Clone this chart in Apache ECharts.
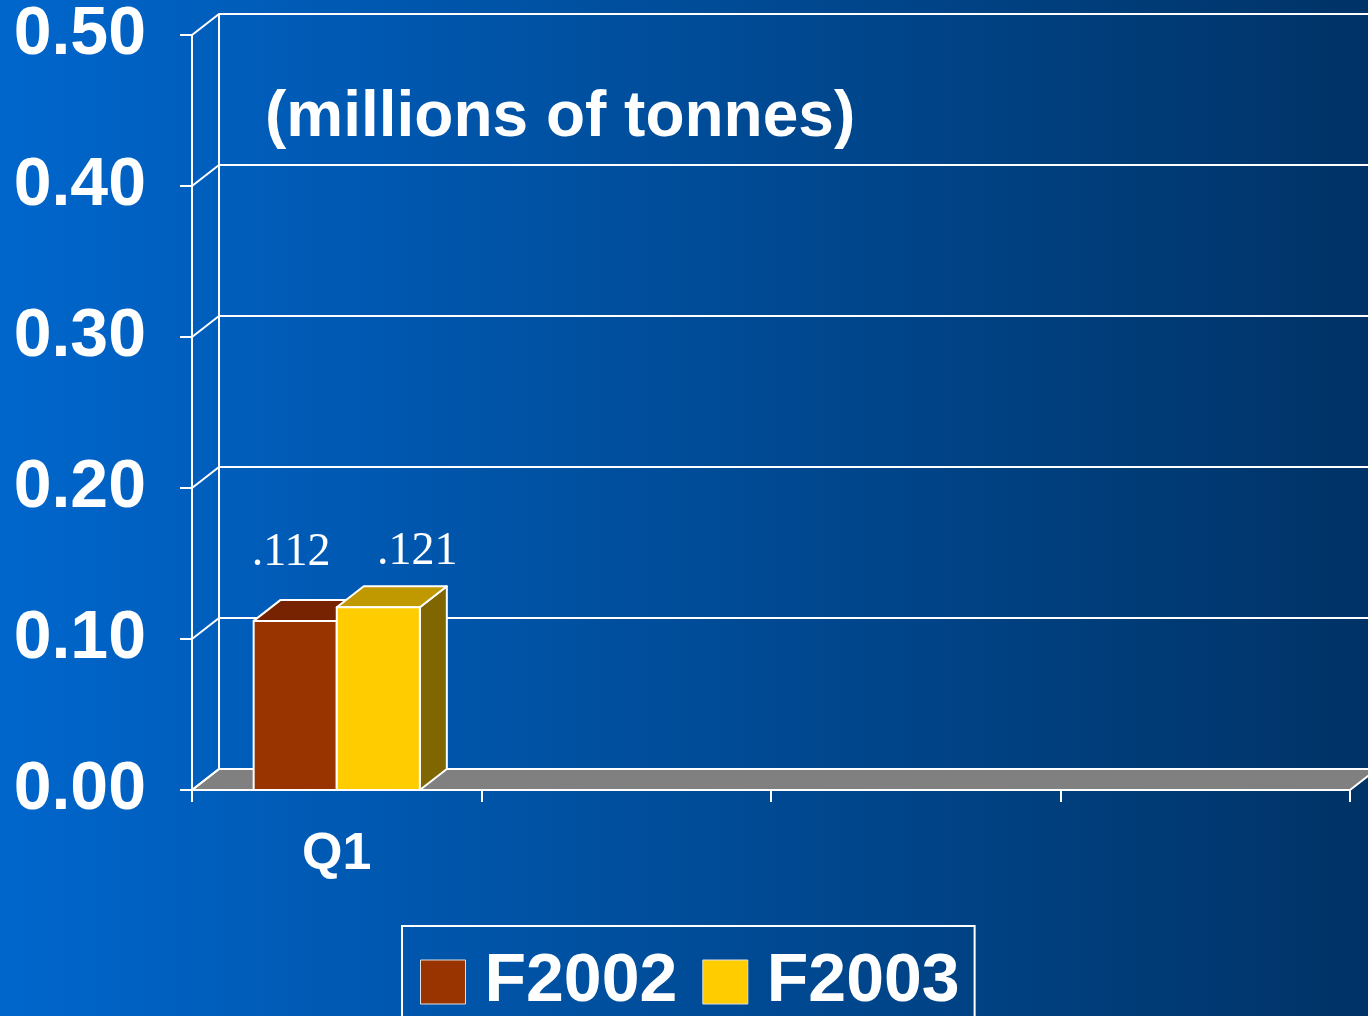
<!DOCTYPE html>
<html>
<head>
<meta charset="utf-8">
<script src="https://cdn.jsdelivr.net/npm/echarts@6/dist/echarts.min.js"></script>
<style>
  html, body { margin: 0; padding: 0; }
  #chart { width: 1368px; height: 1016px; }
</style>
</head>
<body>
<div id="chart"></div>
<script>
// data
const categories = ['Q1', '', '', ''];
const f2002 = [0.112, null, null, null];
const f2003 = [0.121, null, null, null];
const yTicks = [0, 0.1, 0.2, 0.3, 0.4, 0.5];

// pseudo 3d depth
const DX = 27;
const DY = -21;
const SANS = '"Liberation Sans", Arial, sans-serif';
const SERIF = '"Liberation Serif", "Times New Roman", serif';

const chart = echarts.init(document.getElementById('chart'));

const toPoints = arr => arr.map((v, i) => [i, v]).filter(d => d[1] != null);

// floor + side wall lines
const renderFrame = (params, api) => {
  const band = api.size([1, 0])[0];
  const p0 = api.coord([0, 0]);
  const pN = api.coord([categories.length - 1, 0]);
  const left = p0[0] - band / 2;
  const right = pN[0] + band / 2;
  const y0 = p0[1];
  const children = [{
    type: 'polygon',
    shape: { points: [[left, y0], [right, y0], [right + DX, y0 + DY], [left + DX, y0 + DY]] },
    style: { fill: '#808080', stroke: '#fff', lineWidth: 2 }
  }];
  yTicks.forEach(t => {
    const y = api.coord([0, t])[1];
    children.push({
      type: 'line',
      shape: { x1: left, y1: y, x2: left + DX, y2: y + DY },
      style: { stroke: '#fff', lineWidth: 2 }
    });
  });
  return { type: 'group', children: children };
};

// one 3d bar with value label
const makeBar = (slot, front, topColor, sideColor, labelShift) => (params, api) => {
  const cat = api.value(0);
  const v = api.value(1);
  const base = api.coord([cat, 0]);
  const top = api.coord([cat, v]);
  const band = api.size([1, 0])[0];
  const w = band * 0.287;
  const x0 = base[0] + slot * w;
  const yt = top[1];
  const yb = base[1];
  const line = { stroke: '#fff', lineWidth: 2, lineJoin: 'round' };
  return {
    type: 'group',
    children: [
      {
        type: 'polygon',
        shape: { points: [[x0 + w, yt], [x0 + w + DX, yt + DY], [x0 + w + DX, yb + DY], [x0 + w, yb]] },
        style: Object.assign({ fill: sideColor }, line)
      },
      {
        type: 'polygon',
        shape: { points: [[x0, yt], [x0 + w, yt], [x0 + w + DX, yt + DY], [x0 + DX, yt + DY]] },
        style: Object.assign({ fill: topColor }, line)
      },
      {
        type: 'rect',
        shape: { x: x0, y: yt, width: w, height: yb - yt },
        style: Object.assign({ fill: front }, line)
      },
      {
        type: 'text',
        x: x0 + w / 2 + labelShift[0],
        y: yt + labelShift[1],
        style: {
          text: v.toFixed(3).replace(/^0/, ''),
          fill: '#fff',
          font: '46px ' + SERIF,
          align: 'center',
          verticalAlign: 'middle'
        }
      }
    ]
  };
};

const option = {
  backgroundColor: new echarts.graphic.LinearGradient(0, 0, 1, 0, [
    { offset: 0, color: '#0066cc' },
    { offset: 1, color: '#003366' }
  ]),
  animation: false,
  grid: [
    { left: 192, right: 18, top: 35, bottom: 226 },
    { left: 219, right: -9, top: 14, bottom: 247 }
  ],
  graphic: [{
    type: 'text',
    left: 265,
    top: 86,
    style: {
      text: '(millions of tonnes)',
      fill: '#fff',
      font: 'bold 64px ' + SANS
    }
  }],
  legend: {
    data: ['F2002', 'F2003'],
    left: 402,
    top: 926,
    icon: 'rect',
    itemWidth: 45,
    itemHeight: 44,
    itemGap: 25,
    padding: [22, 15, 40, 18],
    borderColor: '#fff',
    borderWidth: 2,
    itemStyle: { borderColor: '#e0e0e0', borderWidth: 1 },
    textStyle: {
      color: '#fff',
      fontSize: 68,
      fontWeight: 'bold',
      fontFamily: SANS,
      padding: [0, 0, 0, 14]
    }
  },
  xAxis: [
    {
      type: 'category',
      gridIndex: 0,
      data: categories,
      boundaryGap: true,
      axisLine: { lineStyle: { color: '#fff', width: 2 } },
      axisTick: { show: true, length: 12, alignWithLabel: false, lineStyle: { color: '#fff', width: 2 } },
      axisLabel: {
        color: '#fff',
        fontSize: 52,
        fontWeight: 'bold',
        fontFamily: SANS,
        margin: 39,
        interval: 0
      },
      splitLine: { show: false }
    },
    {
      type: 'category',
      gridIndex: 1,
      data: categories,
      show: false
    }
  ],
  yAxis: [
    {
      type: 'value',
      gridIndex: 0,
      min: yTicks[0],
      max: yTicks[yTicks.length - 1],
      interval: 0.1,
      axisLine: { show: true, lineStyle: { color: '#fff', width: 2 } },
      axisTick: { show: true, length: 12, lineStyle: { color: '#fff', width: 2 } },
      axisLabel: {
        color: '#fff',
        fontSize: 68,
        fontWeight: 'bold',
        fontFamily: SANS,
        margin: 46,
        padding: [12, 0, 0, 0],
        formatter: v => v.toFixed(2)
      },
      splitLine: { show: false }
    },
    {
      type: 'value',
      gridIndex: 1,
      min: yTicks[0],
      max: yTicks[yTicks.length - 1],
      interval: 0.1,
      axisLine: { show: true, lineStyle: { color: '#fff', width: 2 } },
      axisTick: { show: false },
      axisLabel: { show: false },
      splitLine: { show: true, lineStyle: { color: '#fff', width: 2 } }
    }
  ],
  series: [
    {
      name: 'frame',
      type: 'custom',
      xAxisIndex: 0,
      yAxisIndex: 0,
      z: 1,
      silent: true,
      renderItem: renderFrame,
      data: [[0, 0]]
    },
    {
      name: 'F2002',
      type: 'custom',
      xAxisIndex: 0,
      yAxisIndex: 0,
      z: 3,
      itemStyle: { color: '#993300' },
      renderItem: makeBar(-1, '#993300', '#772200', '#662200', [-4, -68]),
      data: toPoints(f2002)
    },
    {
      name: 'F2003',
      type: 'custom',
      xAxisIndex: 0,
      yAxisIndex: 0,
      z: 4,
      itemStyle: { color: '#ffcc00' },
      renderItem: makeBar(0, '#ffcc00', '#c09900', '#806600', [39, -55]),
      data: toPoints(f2003)
    }
  ]
};

chart.setOption(option);
</script>
</body>
</html>
